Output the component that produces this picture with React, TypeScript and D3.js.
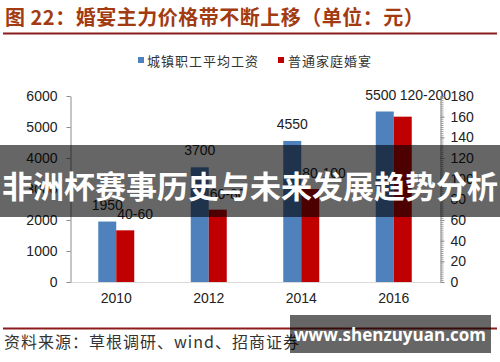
import React, { useEffect, useRef } from "react";
import { axisLeft, axisRight, format, range, scaleBand, scaleLinear, select } from "d3";

const years = ["2010", "2012", "2014", "2016"];
const wages = [1950, 3700, 4550, 5500];
const banquet = [50, 70, 90, 160];
const wageLabels = ["1950", "3700", "4550", "5500"];
const banquetLabels = ["40-60", "60-80", "80-100", "120-200"];
const leftTicks = [0, 1000, 2000, 3000, 4000, 5000, 6000];
const rightTicks = [0, 20, 40, 60, 80, 100, 120, 140, 160, 180];
const seriesNames = ["城镇职工平均工资", "普通家庭婚宴"];

const BLUE = "#4f81bd";
const RED = "#c00000";
const FONT = "'Liberation Sans', Arial, sans-serif";
const CJK = "'Noto Sans CJK SC', sans-serif";

const App = () => {
  const leftRef = useRef(null);
  const rightRef = useRef(null);
  const minorRef = useRef(null);

  const x0 = scaleBand().domain(years).range([70, 440]);
  const x1 = scaleBand()
    .domain(["w", "b"])
    .range([0, x0.bandwidth()])
    .paddingOuter(1.57);
  const yL = scaleLinear().domain([0, 6000]).range([282, 96]);
  const yR = scaleLinear().domain([0, 180]).range([282, 96]);

  useEffect(() => {
    const left = select(leftRef.current);
    left.call(
      axisLeft(yL).tickValues(leftTicks).tickSize(4).tickSizeOuter(0).tickPadding(9).tickFormat(format("d"))
    );
    left.select(".domain").attr("stroke", "#8c8c8c");
    left.selectAll(".tick line").attr("stroke", "#8c8c8c");
    left.selectAll("text").attr("font-size", 14).attr("font-family", FONT).attr("fill", "#222");

    // the dense little ticks on the right axis
    const minor = select(minorRef.current);
    minor.call(axisRight(yR).tickValues(range(0, 181, 2)).tickSize(3).tickSizeOuter(0).tickFormat(() => ""));
    minor.select(".domain").attr("stroke", "#8c8c8c");
    minor.selectAll(".tick line").attr("stroke", "#9a9a9a");

    const right = select(rightRef.current);
    right.call(axisRight(yR).tickValues(rightTicks).tickSize(4).tickSizeOuter(0).tickPadding(6));
    right.select(".domain").remove();
    right.selectAll(".tick line").attr("stroke", "#8c8c8c");
    right.selectAll("text").attr("font-size", 14).attr("font-family", FONT).attr("fill", "#222");
  }, []);

  const bw = x1.bandwidth();

  return (
    <svg
      width={500}
      height={362}
      style={{ position: "absolute", left: 0, top: 0, background: "#fff" }}
    >
      <text x={5} y={25} fontFamily={CJK} fontWeight="bold" fontSize={20} letterSpacing={0.5} fill="#a23b12">
        图 22：婚宴主力价格带不断上移（单位：元）
      </text>
      <line x1={3} x2={497} y1={33.5} y2={33.5} stroke="#8b1c1c" strokeWidth={2} />

      {/* legend */}
      <rect x={138} y={57} width={6} height={6} fill={BLUE} />
      <text x={147} y={60} dominantBaseline="central" fontFamily={CJK} fontSize={13} letterSpacing={1} fill="#333">
        {seriesNames[0]}
      </text>
      <rect x={278} y={57} width={6} height={6} fill={RED} />
      <text x={288} y={60} dominantBaseline="central" fontFamily={CJK} fontSize={13} letterSpacing={1} fill="#333">
        {seriesNames[1]}
      </text>

      {/* bars */}
      {years.map((yr, i) => {
        const bx = x0(yr) + x1("w");
        const rx = x0(yr) + x1("b");
        return (
          <g key={yr}>
            <rect x={bx} y={yL(wages[i])} width={bw} height={282 - yL(wages[i])} fill={BLUE} />
            <rect x={rx} y={yR(banquet[i])} width={bw} height={282 - yR(banquet[i])} fill={RED} />
            <text
              x={bx + bw / 2 - (i === 3 ? 4 : 0)}
              y={yL(wages[i]) - 12}
              textAnchor="middle"
              fontFamily={FONT}
              fontSize={14}
              fill="#222"
            >
              {wageLabels[i]}
            </text>
            <text
              x={rx + (i === 3 ? 6 : 1)}
              y={i === 3 ? yL(wages[i]) - 12 : yR(banquet[i]) - 11}
              fontFamily={FONT}
              fontSize={14}
              fill="#222"
            >
              {banquetLabels[i]}
            </text>
            <text x={x0(yr) + x0.bandwidth() / 2} y={303} textAnchor="middle" fontFamily={FONT} fontSize={14} fill="#222">
              {yr}
            </text>
          </g>
        );
      })}
      <line x1={70} x2={440} y1={282.5} y2={282.5} stroke="#d9d9d9" strokeWidth={1} />

      <g ref={leftRef} transform="translate(70.5,0)" />
      <g ref={minorRef} transform="translate(440.5,0)" />
      <g ref={rightRef} transform="translate(440.5,0)" />

      {/* source */}
      <line x1={3} x2={497} y1={328.5} y2={328.5} stroke="#8b1c1c" strokeWidth={2} />
      <text x={4} y={341} dominantBaseline="central" fontFamily={CJK} fontSize={16} letterSpacing={1} fill="#333">
        资料来源：草根调研、wind、招商证券
      </text>

      {/* overlay banner */}
      <rect x={0} y={145} width={500} height={72} fill="rgba(0,0,0,0.6)" />
      <text x={250} y={184} textAnchor="middle" dominantBaseline="central" fontFamily={CJK} fontWeight="bold" fontSize={31} fill="#fff">
        非洲杯赛事历史与未来发展趋势分析
      </text>

      <rect x={290} y={315} width={201} height={38} fill="rgba(0,0,0,0.6)" />
      <text x={390} y={334} textAnchor="middle" dominantBaseline="central" fontFamily="'Open Sans', sans-serif" fontWeight="bold" fontSize={17} fill="#fff">
        www.shenzuyuan.com
      </text>
    </svg>
  );
};

export default App;
